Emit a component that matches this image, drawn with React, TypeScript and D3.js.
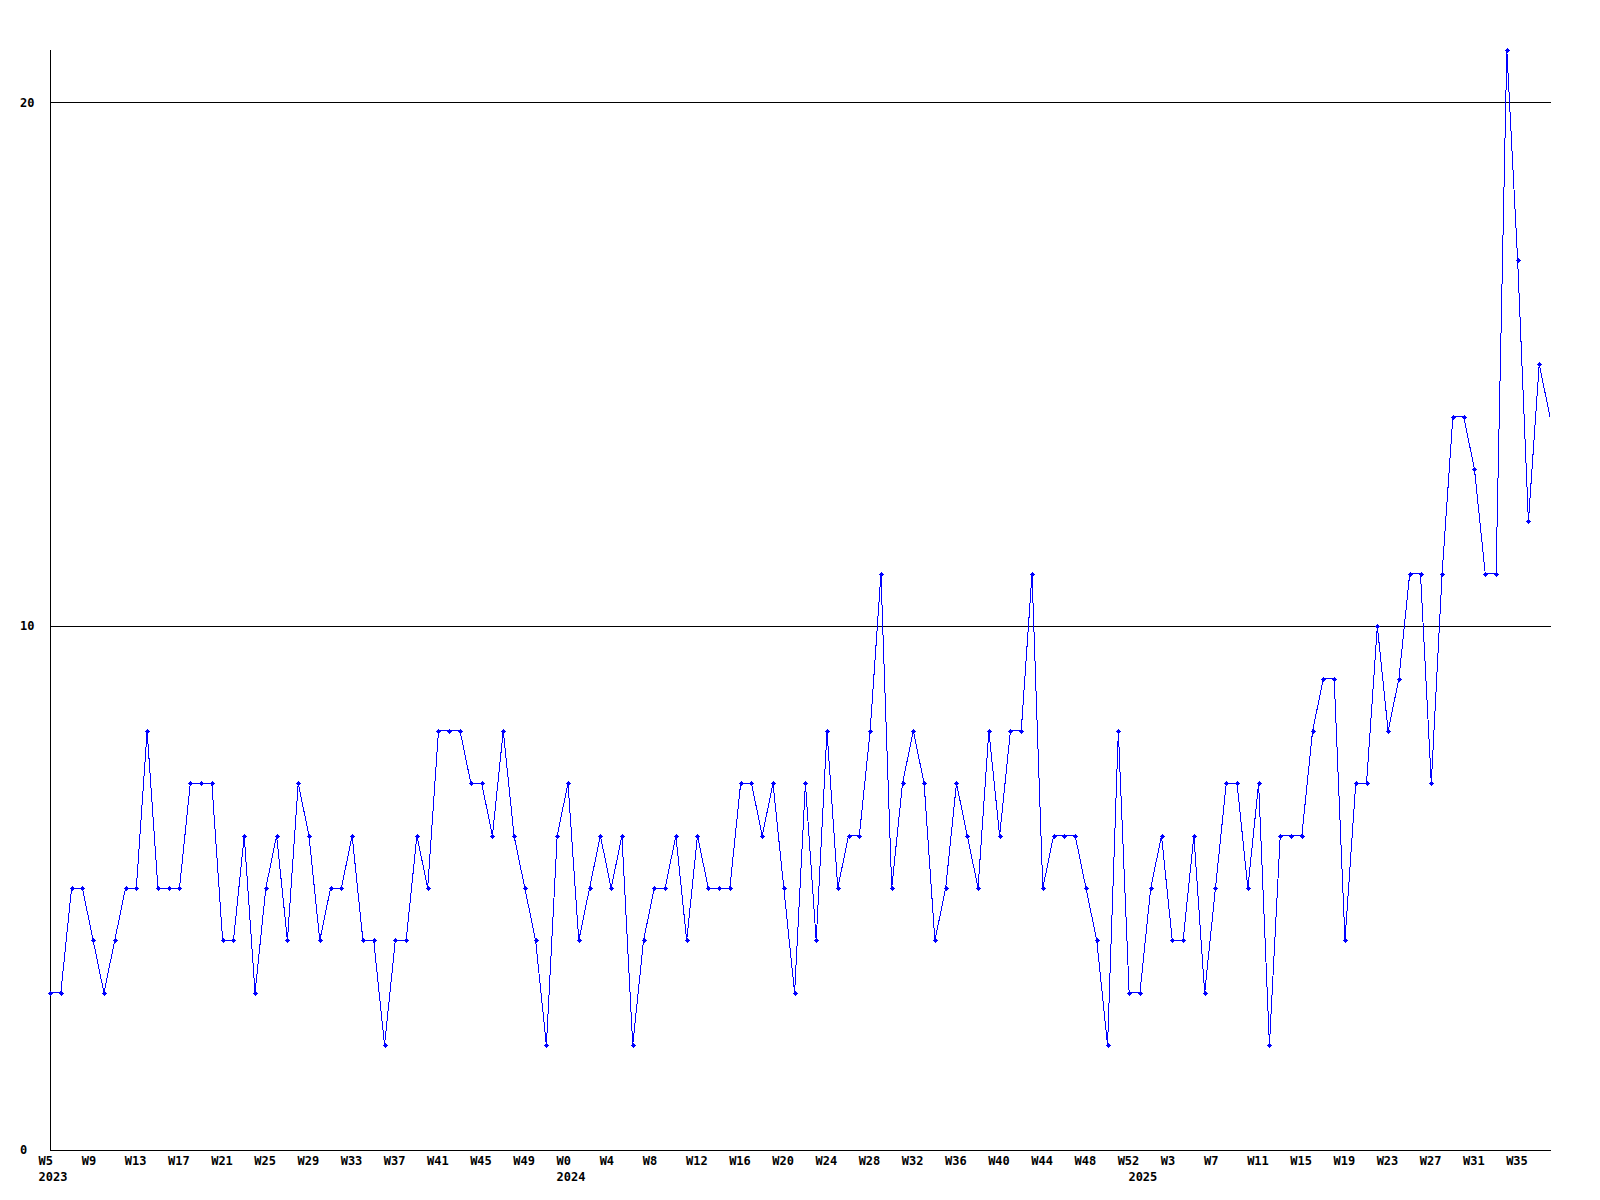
import React from "react";
import * as d3 from "d3";

// Weekly values, one per week from W5 2023 onward
const values: number[] = [
  3, 3, 5, 5, 4, 3, 4, 5, 5, 8,
  5, 5, 5, 7, 7, 7, 4, 4, 6, 3,
  5, 6, 4, 7, 6, 4, 5, 5, 6, 4,
  4, 2, 4, 4, 6, 5, 8, 8, 8, 7,
  7, 6, 8, 6, 5, 4, 2, 6, 7, 4,
  5, 6, 5, 6, 2, 4, 5, 5, 6, 4,
  6, 5, 5, 5, 7, 7, 6, 7, 5, 3,
  7, 4, 8, 5, 6, 6, 8, 11, 5, 7,
  8, 7, 4, 5, 7, 6, 5, 8, 6, 8,
  8, 11, 5, 6, 6, 6, 5, 4, 2, 8,
  3, 3, 5, 6, 4, 4, 6, 3, 5, 7,
  7, 5, 7, 2, 6, 6, 6, 8, 9, 9,
  4, 7, 7, 10, 8, 9, 11, 11, 7, 11,
  14, 14, 13, 11, 11, 21, 17, 12, 15, 14,
];

// Week tick labels, every 4th week
const weekLabels: string[] = [
  "W5", "W9", "W13", "W17", "W21", "W25", "W29", "W33", "W37", "W41", "W45", "W49",
  "W0", "W4", "W8", "W12", "W16", "W20", "W24", "W28", "W32", "W36", "W40", "W44", "W48", "W52",
  "W3", "W7", "W11", "W15", "W19", "W23", "W27", "W31", "W35",
];
const weekLabelStep = 4;

// Year labels and the week index they sit under
const yearLabels: string[] = ["2023", "2024", "2025"];
const yearIndices: number[] = [0, 48, 101];

const yTicks: number[] = [0, 10, 20];
const yMax = 21;

const W = 1600;
const H = 1200;
const left = 50;
const right = 1551;
const top = 50;
const bottom = 1150;
const font = "'DejaVu Sans Mono', monospace";
const fs = 12;

export default function App() {
  const x = d3.scaleLinear().domain([0, values.length - 1]).range([left, right - 1]);
  const y = d3.scaleLinear().domain([0, yMax]).range([bottom, top]);
  const line = d3
    .line<number>()
    .x((_, i) => x(i))
    .y((d) => y(d));

  return (
    <svg
      width={W}
      height={H}
      style={{ position: "absolute", left: 0, top: 0, background: "#fff" }}
    >
      <rect x={0} y={0} width={W} height={H} fill="#fff" />
      {yTicks
        .filter((t) => t > 0)
        .map((t) => (
          <line
            key={t}
            x1={left}
            x2={right}
            y1={Math.round(y(t)) + 0.5}
            y2={Math.round(y(t)) + 0.5}
            stroke="#000"
            strokeWidth={1}
            shapeRendering="crispEdges"
          />
        ))}
      <line x1={left + 0.5} x2={left + 0.5} y1={top} y2={bottom} stroke="#000" shapeRendering="crispEdges" />
      <line x1={left} x2={right} y1={bottom + 0.5} y2={bottom + 0.5} stroke="#000" shapeRendering="crispEdges" />
      {yTicks.map((t) => (
        <text
          key={t}
          x={20}
          y={y(t)}
          dy="0.35em"
          fontFamily={font}
          fontWeight="bold"
          fontSize={fs}
          fill="#000"
        >
          {t}
        </text>
      ))}
      {weekLabels.map((lab, k) => (
        <text
          key={lab + k}
          x={x(k * weekLabelStep) - 11.5}
          y={1161}
          dy="0.35em"
          fontFamily={font}
          fontWeight="bold"
          fontSize={fs}
          fill="#000"
        >
          {lab}
        </text>
      ))}
      {yearLabels.map((lab, k) => (
        <text
          key={lab}
          x={x(yearIndices[k]) - 11.5}
          y={1177}
          dy="0.35em"
          fontFamily={font}
          fontWeight="bold"
          fontSize={fs}
          fill="#000"
        >
          {lab}
        </text>
      ))}
      <path
        d={line(values) || ""}
        fill="none"
        stroke="#0000ff"
        strokeWidth={1}
        shapeRendering="crispEdges"
      />
      {values.slice(0, values.length - 1).map((v, i) => {
        const cx = Math.round(x(i));
        const cy = Math.round(y(v));
        return (
          <g key={i} fill="#0000ff" shapeRendering="crispEdges">
            <rect x={cx - 1} y={cy - 1} width={3} height={3} />
            <rect x={cx - 2} y={cy} width={5} height={1} />
            <rect x={cx} y={cy - 2} width={1} height={5} />
          </g>
        );
      })}
    </svg>
  );
}
